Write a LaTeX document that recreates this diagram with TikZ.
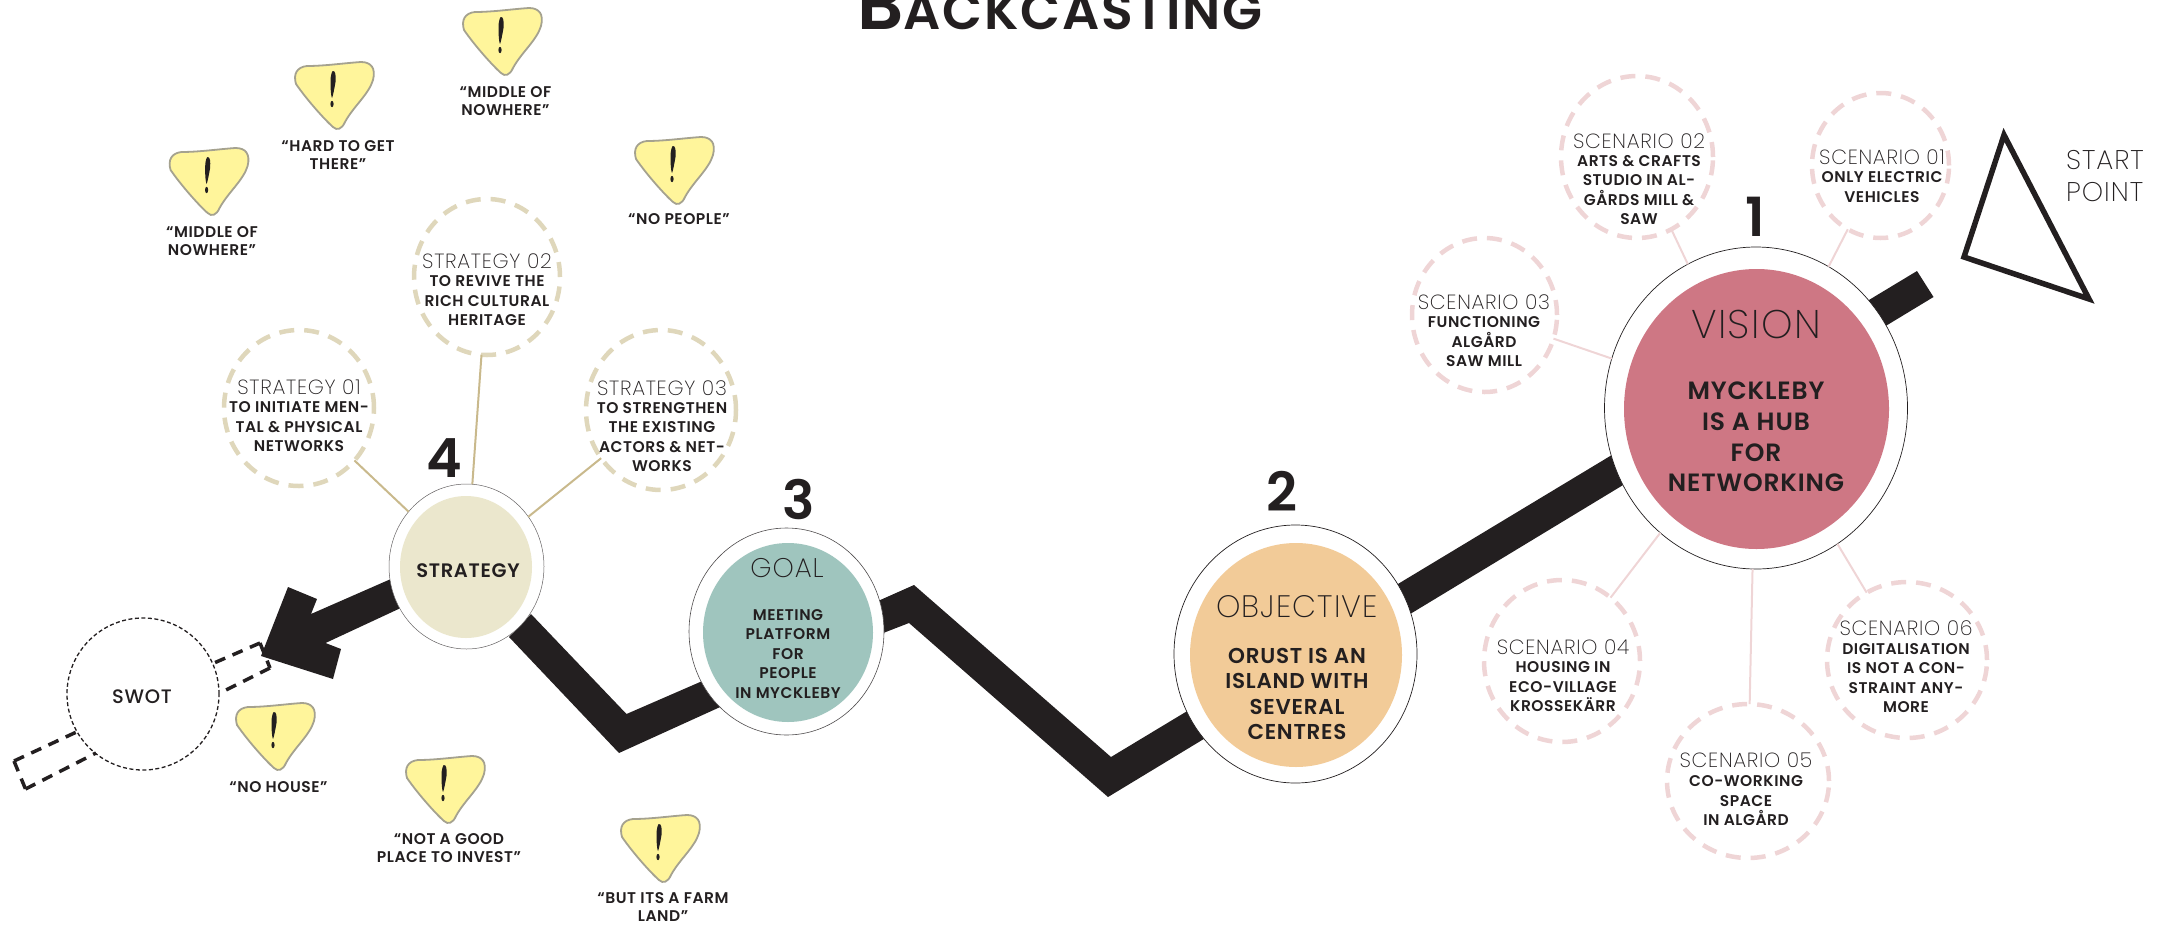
\documentclass[tikz,border=0pt]{standalone}
\usepackage{fontspec}
\usetikzlibrary{shapes.geometric}
\setmainfont{Poppins}
\newfontfamily\lightf[LetterSpace=3.5]{Poppins ExtraLight}
\newfontfamily\medf[LetterSpace=3.5]{Poppins Medium}
\newfontfamily\semif[LetterSpace=3.5]{Poppins SemiBold}
\definecolor{ink}{HTML}{231F20}
\definecolor{visionc}{HTML}{CE7784}
\definecolor{objc}{HTML}{F2CB98}
\definecolor{goalc}{HTML}{9FC5BE}
\definecolor{stratc}{HTML}{EBE7CD}
\definecolor{pinkd}{HTML}{EFD5D6}
\definecolor{pinkl}{HTML}{EFD5D6}
\definecolor{tand}{HTML}{DFD7BB}
\definecolor{tanl}{HTML}{C9B98C}
\definecolor{warny}{HTML}{FFF59B}
\definecolor{warne}{HTML}{A5A28F}
\tikzset{
  oval/.style={ellipse,inner sep=0pt,outer sep=0pt},
  ring/.style={oval,draw=ink,line width=0.7pt,fill=white},
  core/.style={oval},
  scen/.style={oval,draw=pinkd,line width=4.5pt,dash pattern=on 15pt off 10pt,fill=white},
  strat/.style={oval,draw=tand,line width=4.5pt,dash pattern=on 15pt off 10pt,fill=white},
  scl/.style={draw=pinkl,line width=2pt},
  stl/.style={draw=tanl,line width=2pt},
  head/.style={inner sep=0pt,text=ink,font=\fontsize{20.5}{22}\selectfont\lightf},
  body/.style={inner sep=0pt,text=ink,align=center,font=\fontsize{15.5}{19.5}\selectfont\semif},
  num/.style={inner sep=0pt,text=ink,font=\fontsize{54}{56}\selectfont\semif},
  warnlab/.style={inner sep=0pt,text=ink,align=center,font=\fontsize{15.5}{18.5}\selectfont\semif},
  swotrect/.style={draw=ink,line width=3.5pt,dash pattern=on 11pt off 8pt},
  warn/.pic={
    \draw[warne,line width=1.8pt,fill=warny]
      (1,22) .. controls (-2,12) and (2,5) .. (12,4)
      .. controls (30,4) and (50,1) .. (66,0)
      .. controls (76,0) and (81,6) .. (78,18)
      .. controls (74,32) and (58,45) .. (50,60)
      .. controls (47,67) and (42,69) .. (38,65)
      .. controls (30,58) and (12,38) .. (1,22) -- cycle;
    \fill[ink] (35.5,20) .. controls (35.5,13) and (37,9) .. (38,9)
      .. controls (40.5,9) and (41,13) .. (40.5,20)
      .. controls (39.5,26) and (38,34) .. (37,36)
      .. controls (36,34) and (35.5,28) .. (35.5,20) -- cycle;
    \fill[ink] (37,42) ellipse (1.6pt and 3.2pt);
  }
}
\begin{document}
\begin{tikzpicture}[x=1pt,y=-1pt]
\useasboundingbox (0,0) rectangle (2157,924);
\clip (0,0) rectangle (2157,924);
% thick path
\fill[ink] (1917,271) -- (1111,757) -- (914,585) -- (860,609) -- (860,642) -- (909,623) -- (1108,797) -- (1933.5,297) -- cycle;
\fill[ink] (531,614) -- (626.5,714) -- (730,669) -- (740,698) -- (619,753) -- (509,637) -- cycle;
% arrow
\fill[ink] (400,575) -- (311,614) -- (317,599) -- (288,587) -- (261,656) -- (333,679) -- (341,649) -- (325.5,643) -- (405,606) -- cycle;
% big ovals
\node[ring,minimum width=303pt,minimum height=322pt] (visionout) at (1756,408) {};
\node[core,fill=visionc,minimum width=265pt,minimum height=280pt] (visionin) at (1756.5,409) {};
\node[ring,minimum width=243pt,minimum height=258pt] (objout) at (1295.5,654) {};
\node[core,fill=objc,minimum width=212pt,minimum height=224pt] (objin) at (1296,655) {};
\node[ring,draw=ink!80,line width=0.6pt,minimum width=195pt,minimum height=207pt] (goalout) at (786.5,631.5) {};
\node[core,fill=goalc,minimum width=170pt,minimum height=179pt] (goalin) at (788,632.5) {};
\node[ring,draw=ink!70,line width=0.5pt,minimum width=155pt,minimum height=165pt] (stratout) at (466.5,566.5) {};
\node[core,fill=stratc,minimum width=132pt,minimum height=142pt] (stratin) at (466,567) {};
% swot
\node[oval,draw=ink,line width=1.3pt,dash pattern=on 4pt off 2.5pt,minimum width=152pt,minimum height=152pt] (swot) at (143,694) {};
\coordinate (ra) at (214,663); \coordinate (rb) at (260,643); \coordinate (rc) at (270,668); \coordinate (rd) at (220,693);
\draw[swotrect] (rb) -- (ra);
\draw[swotrect] (rb) -- (rc);
\draw[swotrect] (rc) -- (rd);
\coordinate (re) at (76.5,732); \coordinate (rf) at (14,761); \coordinate (rg) at (25.5,789); \coordinate (rh) at (96,753);
\draw[swotrect] (rf) -- (re);
\draw[swotrect] (rf) -- (rg);
\draw[swotrect] (rg) -- (rh);
% scenarios
\node[scen,minimum width=152pt,minimum height=162pt] (s2) at (1637,157) {};
\node[scen,minimum width=137pt,minimum height=145pt] (s1) at (1880.5,165.5) {};
\node[scen,minimum width=145pt,minimum height=154pt] (s3) at (1484.5,315) {};
\node[scen,minimum width=156pt,minimum height=162pt] (s4) at (1562,661) {};
\node[scen,minimum width=162pt,minimum height=154pt] (s5) at (1748,781) {};
\node[scen,minimum width=160pt,minimum height=156pt] (s6) at (1907,660) {};
\foreach \n in {s1,s2,s3,s4,s5,s6} \draw[scl] (\n) -- (visionout);
% strategies
\node[strat,minimum width=146pt,minimum height=156pt] (t2) at (487,277) {};
\node[strat,minimum width=150pt,minimum height=156pt] (t1) at (299,408) {};
\node[strat,minimum width=150pt,minimum height=160pt] (t3) at (661,410) {};
\foreach \n in {t1,t2,t3} \draw[stl] (\n) -- (stratout);
% main labels
\node[inner sep=0pt,text=ink,font=\fontsize{40}{42}\selectfont\lightf] (vt) at (1756,324) {VISION};
\node[inner sep=0pt,text=ink,align=center,font=\fontsize{25}{30.7}\selectfont\semif] (vb) at (1756,437) {MYCKLEBY\\IS A HUB\\FOR\\NETWORKING};
\node[inner sep=0pt,text=ink,font=\fontsize{31}{33}\selectfont\lightf] (ot) at (1297,607) {OBJECTIVE};
\node[inner sep=0pt,text=ink,align=center,font=\fontsize{21.5}{25.3}\selectfont\semif] (ob) at (1297,694) {ORUST IS AN\\ISLAND WITH\\SEVERAL\\CENTRES};
\node[inner sep=0pt,text=ink,font=\fontsize{27}{29}\selectfont\lightf] (gt) at (787,568) {GOAL};
\node[body] (gb) at (788,654) {MEETING\\PLATFORM\\FOR\\PEOPLE\\IN MYCKLEBY};
\node[inner sep=0pt,text=ink,font=\fontsize{19.5}{21}\selectfont\semif] (stl) at (468,571) {STRATEGY};
\node[inner sep=0pt,text=ink,font=\fontsize{19.5}{21}\selectfont\medf] (swl) at (142,697) {SWOT};
\node[inner sep=0pt,text=ink,align=left,anchor=west,font=\fontsize{27}{32}\selectfont\lightf] (sp) at (2066,176) {START\\POINT};
% numbers
\node[num] (n1) at (1755,217) {1};
\node[num] (n2) at (1282,491) {2};
\node[num] (n3) at (799,499) {3};
\node[num] (n4) at (444,458) {4};
% scenario labels
\node[head] at (1639,141) {SCENARIO 02};
\node[body] at (1639,190) {ARTS \& CRAFTS\\STUDIO IN AL-\\GÅRDS MILL \&\\SAW};
\node[head] at (1882,157) {SCENARIO 01};
\node[body] at (1882,187) {ONLY ELECTRIC\\VEHICLES};
\node[head] at (1484,302) {SCENARIO 03};
\node[body] at (1484,342) {FUNCTIONING\\ALGÅRD\\SAW MILL};
\node[head] at (1563,647) {SCENARIO 04};
\node[body] at (1563,687) {HOUSING IN\\ECO-VILLAGE\\KROSSEKÄRR};
\node[head] at (1746,760) {SCENARIO 05};
\node[body] at (1746,801) {CO-WORKING\\SPACE\\IN ALGÅRD};
\node[head] at (1906,628) {SCENARIO 06};
\node[body] at (1906,678) {DIGITALISATION\\IS NOT A CON-\\STRAINT ANY-\\MORE};
% strategy labels
\node[head] at (487,261) {STRATEGY 02};
\node[body] at (487,301) {TO REVIVE THE\\RICH CULTURAL\\HERITAGE};
\node[head] at (299,387) {STRATEGY 01};
\node[body] at (299,427) {TO INITIATE MEN-\\TAL \& PHYSICAL\\NETWORKS};
\node[head] at (662,388) {STRATEGY 03};
\node[body] at (662,437) {TO STRENGTHEN\\THE EXISTING\\ACTORS \& NET-\\WORKS};
% start triangle
\coordinate (ta) at (2004,135); \coordinate (tb) at (1964,257); \coordinate (tc) at (2089,299);
\draw[ink,line width=5.5pt,miter limit=10] (ta) -- (tb) -- (tc) -- cycle;
% warnings
\pic at (169.6,148) {warn};
\pic at (295,62) {warn};
\pic at (463,8) {warn};
\pic at (635,137) {warn};
\pic at (236,703) {warn};
\pic at (406,756) {warn};
\pic at (621,815) {warn};
\node[warnlab] at (212,241) {“MIDDLE OF\\NOWHERE”};
\node[warnlab] at (338,155) {“HARD TO GET\\THERE”};
\node[warnlab] at (505.5,101) {“MIDDLE OF\\NOWHERE”};
\node[warnlab] at (679,219) {“NO PEOPLE”};
\node[warnlab] at (278.5,787) {“NO HOUSE”};
\node[warnlab] at (449,848) {“NOT A GOOD\\PLACE TO INVEST”};
\node[warnlab] at (663,907) {“BUT ITS A FARM\\LAND”};
% title
\node[inner sep=0pt,anchor=base,text=ink,font=\fontsize{72}{74}\selectfont\semif] (title) at (1060,29) {B\fontsize{52}{54}\selectfont ACKCASTING};
\end{tikzpicture}
\end{document}
